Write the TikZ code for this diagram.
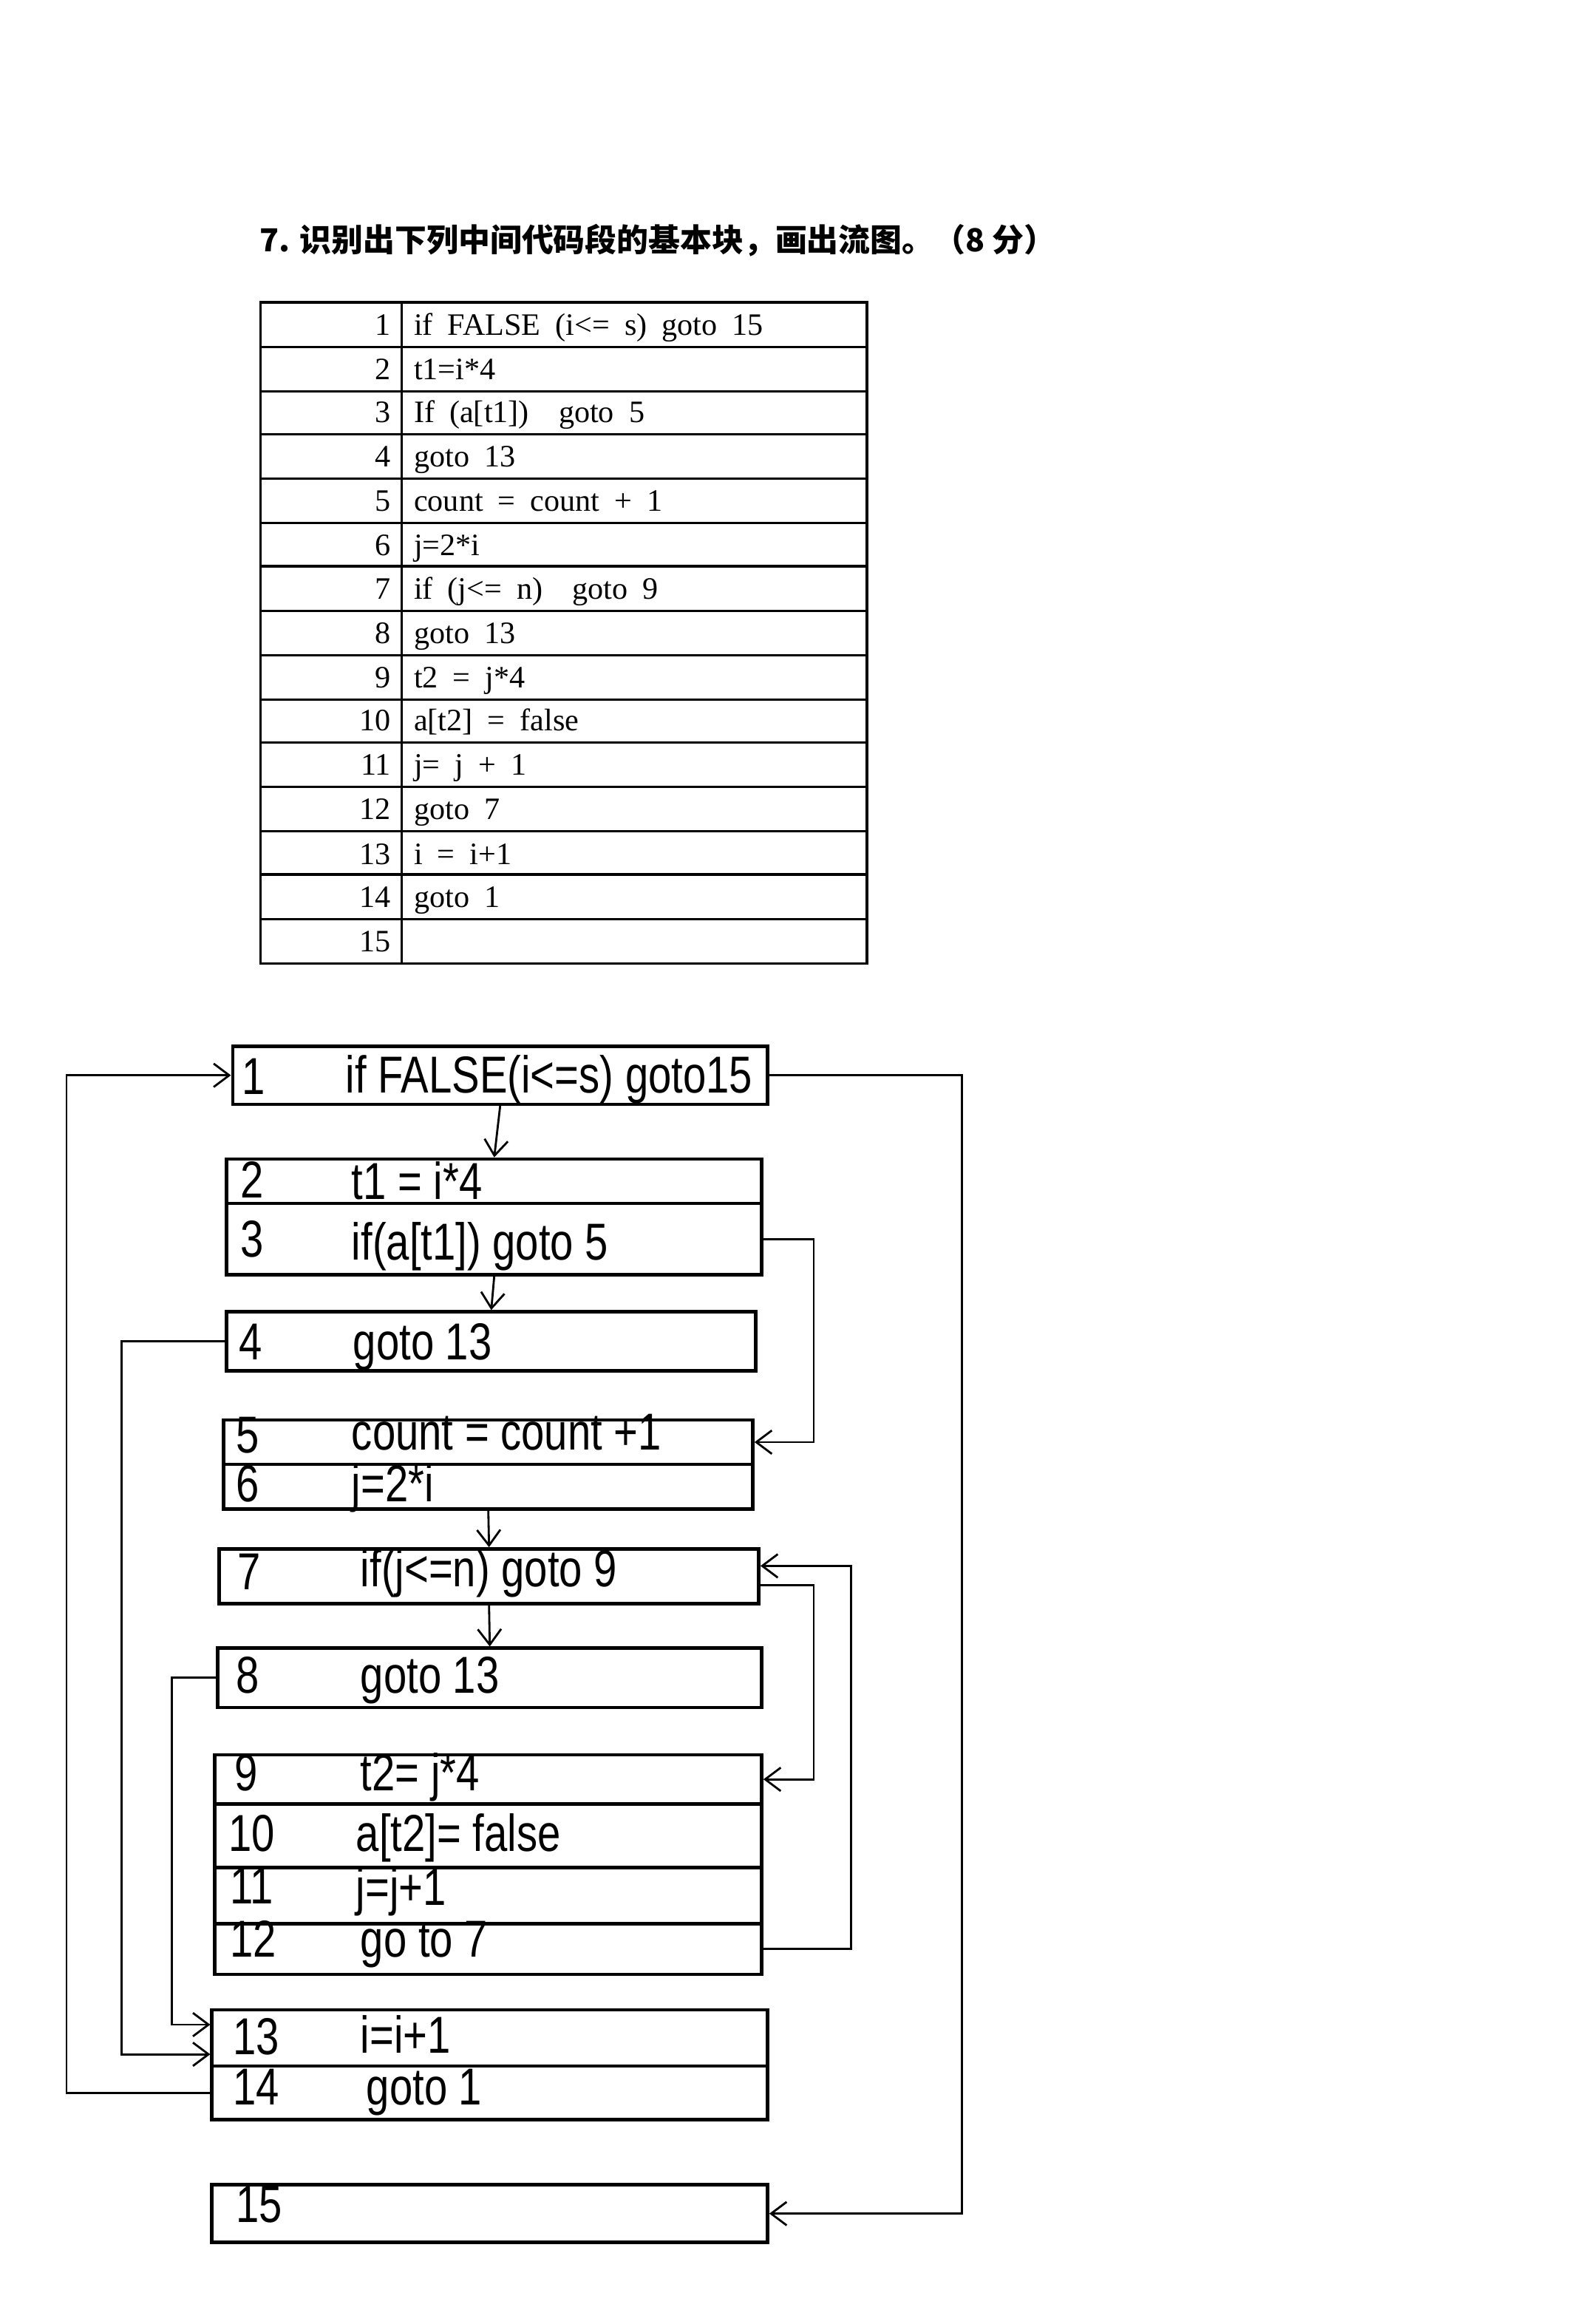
\documentclass[tikz,border=0pt]{standalone}
\usepackage{fontspec}
\setmainfont{Liberation Serif}
\newfontfamily\cjk{Noto Sans CJK SC}
\newfontfamily\tabfont{Liberation Serif}[WordSpace=1.9]
\newfontfamily\hand{Liberation Sans}[FakeStretch=0.8]
\usetikzlibrary{arrows.meta,calc,fit}

\tikzset{
  qtitle/.style={anchor=west, inner sep=0pt, font=\cjk\bfseries\fontsize{12.2}{14}\selectfont},
  tbl/.style={line width=0.9pt},
  tnum/.style={anchor=east, inner sep=0pt, text height=8.5pt, text depth=0.5pt, font=\tabfont\fontsize{12}{14}\selectfont},
  tcode/.style={anchor=west, inner sep=0pt, text height=8.5pt, text depth=0.5pt, font=\tabfont\fontsize{12}{14}\selectfont},
  blockrow/.style={draw, line width=1.3pt, inner sep=0pt},
  hw/.style={anchor=west, inner sep=0pt, text height=14pt, text depth=0pt, font=\hand\fontsize{20}{24}\selectfont},
  link/.style={line width=0.8pt, -{Straight Barb[length=6pt,width=9pt]}},
}

\begin{document}
\begin{tikzpicture}[x=0.020056cm, y=-0.020056cm]
            \useasboundingbox (0,0) rectangle (1074,1568);
            \node[qtitle] (title) at (175,162) {7. 识别出下列中间代码段的基本块，画出流图。（8 分）};

            % the table of intermediate code
            \draw[tbl] (176,204) rectangle (585,650);
            \draw[tbl] (271,204) -- (271,650);
            \foreach \y in {234,264,293,323,353,382,412,442,472,501,531,561,590,620}
              \draw[tbl] (176,\y) -- (585,\y);
            \node[tnum] (n1) at (264,219) {1};   \node[tcode] (c1) at (279,219) {if FALSE (i<= s) goto 15};
            \node[tnum] (n2) at (264,249) {2};   \node[tcode] (c2) at (279,249) {t1=i*4};
            \node[tnum] (n3) at (264,278) {3};   \node[tcode] (c3) at (279,278) {If (a[t1])\ \ goto 5};
            \node[tnum] (n4) at (264,308) {4};   \node[tcode] (c4) at (279,308) {goto 13};
            \node[tnum] (n5) at (264,338) {5};   \node[tcode] (c5) at (279,338) {count = count + 1};
            \node[tnum] (n6) at (264,368) {6};   \node[tcode] (c6) at (279,368) {j=2*i};
            \node[tnum] (n7) at (264,397) {7};   \node[tcode] (c7) at (279,397) {if (j<= n)\ \ goto 9};
            \node[tnum] (n8) at (264,427) {8};   \node[tcode] (c8) at (279,427) {goto 13};
            \node[tnum] (n9) at (264,457) {9};   \node[tcode] (c9) at (279,457) {t2 = j*4};
            \node[tnum] (n10) at (264,486) {10}; \node[tcode] (c10) at (279,486) {a[t2] = false};
            \node[tnum] (n11) at (264,516) {11}; \node[tcode] (c11) at (279,516) {j= j + 1};
            \node[tnum] (n12) at (264,546) {12}; \node[tcode] (c12) at (279,546) {goto 7};
            \node[tnum] (n13) at (264,576) {13}; \node[tcode] (c13) at (279,576) {i = i+1};
            \node[tnum] (n14) at (264,605) {14}; \node[tcode] (c14) at (279,605) {goto 1};
            \node[tnum] (n15) at (264,635) {15};

            % basic blocks
            \node[blockrow, fit={(157,706) (518,745)}] (l1) {};
            \node[blockrow, fit={(153,782) (514,812)}] (l2) {};
            \node[blockrow, fit={(153,812) (514,860)}] (l3) {};
            \node[blockrow, fit={(153,885) (510,925)}] (l4) {};
            \node[blockrow, fit={(151,958) (508,988)}] (l5) {};
            \node[blockrow, fit={(151,988) (508,1018)}] (l6) {};
            \node[blockrow, fit={(148,1045) (512,1082)}] (l7) {};
            \node[blockrow, fit={(147,1112) (514,1152)}] (l8) {};
            \node[blockrow, fit={(145,1184) (514,1217)}] (l9) {};
            \node[blockrow, fit={(145,1217) (514,1260)}] (l10) {};
            \node[blockrow, fit={(145,1260) (514,1298)}] (l11) {};
            \node[blockrow, fit={(145,1298) (514,1332)}] (l12) {};
            \node[blockrow, fit={(143,1356) (518,1394)}] (l13) {};
            \node[blockrow, fit={(143,1394) (518,1430)}] (l14) {};
            \node[blockrow, fit={(143,1474) (518,1513)}] (l15) {};

            \node[hw] (h1) at (163,726) {1};   \node[hw] (s1) at (233,725) {if FALSE(i<=s) goto15};
            \node[hw] (h2) at (162,796) {2};   \node[hw] (s2) at (237,797) {t1 = i*4};
            \node[hw] (h3) at (162,836) {3};   \node[hw] (s3) at (237,838) {if(a[t1]) goto 5};
            \node[hw] (h4) at (161,905) {4};   \node[hw] (s4) at (238,905) {goto 13};
            \node[hw] (h5) at (159,968) {5};   \node[hw] (s5) at (237,966) {count = count +1};
            \node[hw] (h6) at (159,1001) {6};  \node[hw] (s6) at (237,1001) {j=2*i};
            \node[hw] (h7) at (160,1060) {7};  \node[hw] (s7) at (243,1058) {if(j<=n) goto 9};
            \node[hw] (h8) at (159,1130) {8};  \node[hw] (s8) at (243,1130) {goto 13};
            \node[hw] (h9) at (158,1196) {9};  \node[hw] (s9) at (243,1196) {t2= j*4};
            \node[hw] (h10) at (154,1237) {10}; \node[hw] (s10) at (240,1237) {a[t2]= false};
            \node[hw] (h11) at (155,1272) {11}; \node[hw] (s11) at (240,1273) {j=j+1};
            \node[hw] (h12) at (155,1308) {12}; \node[hw] (s12) at (243,1308) {go to 7};
            \node[hw] (h13) at (157,1374) {13}; \node[hw] (s13) at (243,1373) {i=i+1};
            \node[hw] (h14) at (157,1408) {14}; \node[hw] (s14) at (247,1408) {goto 1};
            \node[hw] (h15) at (159,1487) {15};

            % flow edges
            \draw[link] (l1.south) -- (l2.north);
            \draw[link] (l3.south) -- (l4.north);
            \draw[link] (l6.south) -- (l7.north);
            \draw[link] (l7.south) -- (l8.north);
            \draw[link] (l1.east) -- ++(130,0) |- (l15.east);
            \draw[link] (l14.west) -- ++(-97,0) |- (l1.west);
            \draw[link] (l3.east) -- ++(34,0) |- (l5.east);
            \draw[link] (l4.west) -- ++(-70,0) |- ($(l13.west)+(0,11)$);
            \draw[link] (l8.west) -- ++(-30,0) |- ($(l13.west)+(0,-9)$);
            \draw[link] ($(l7.east)+(0,6)$) -- ++(36,0) |- (l9.east);
            \draw[link] (l12.east) -- ++(59,0) |- ($(l7.east)+(0,-7)$);
\end{tikzpicture}
\end{document}
